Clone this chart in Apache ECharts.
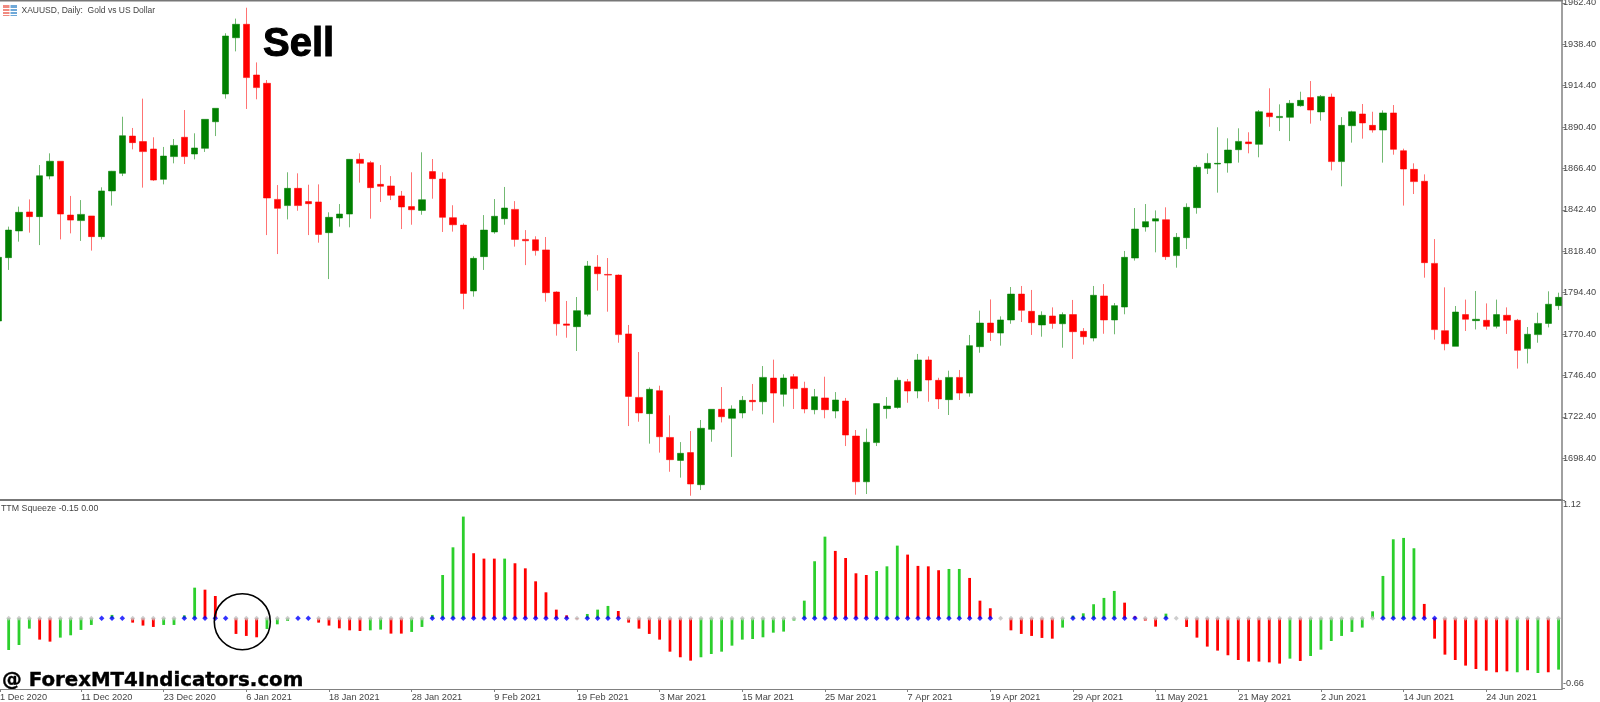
<!DOCTYPE html>
<html>
<head>
<meta charset="utf-8">
<style>html,body{margin:0;padding:0;background:#fff}#c{width:1600px;height:702px}</style>
<script src="https://cdn.jsdelivr.net/npm/echarts@6/dist/echarts.min.js"></script>
</head>
<body>
<div id="c"></div>
<script>
const dateLabels = ['1 Dec 2020','11 Dec 2020','23 Dec 2020','6 Jan 2021','18 Jan 2021','28 Jan 2021','9 Feb 2021','19 Feb 2021','3 Mar 2021','15 Mar 2021','25 Mar 2021','7 Apr 2021','19 Apr 2021','29 Apr 2021','11 May 2021','21 May 2021','2 Jun 2021','14 Jun 2021','24 Jun 2021'];
const priceTicks = [1698.4,1722.4,1746.4,1770.4,1794.4,1818.4,1842.4,1866.4,1890.4,1914.4,1938.4,1962.4];
const momentumTicks = [-0.66,1.12];

const opens = [1778.0,1814.7,1830.2,1841.2,1838.5,1862.0,1870.6,1839.4,1836.2,1838.9,
1826.9,1853.4,1863.6,1885.2,1882.0,1877.7,1860.1,1873.3,1884.5,1874.8,
1878.1,1893.5,1909.6,1942.2,1950.0,1920.6,1915.8,1848.5,1844.9,1854.9,
1847.2,1847.0,1829.2,1837.7,1840.0,1871.7,1869.8,1857.2,1856.3,1850.5,
1844.3,1842.1,1864.6,1860.3,1837.9,1833.6,1795.4,1815.3,1829.6,1837.3,
1842.7,1825.3,1825.1,1819.2,1794.8,1776.3,1774.7,1781.9,1809.3,1805.0,
1804.6,1770.5,1733.7,1724.3,1737.6,1710.5,1697.2,1701.7,1683.1,1715.2,
1726.8,1721.6,1724.7,1732.0,1731.2,1744.9,1735.5,1745.7,1739.0,1726.6,
1733.4,1725.8,1731.6,1711.3,1684.8,1707.5,1727.2,1727.9,1742.8,1737.4,
1755.4,1743.6,1732.4,1745.3,1736.2,1763.1,1776.8,1771.0,1778.6,1793.6,
1783.6,1775.7,1780.9,1776.4,1781.7,1772.0,1768.1,1792.5,1778.6,1786.1,
1814.5,1832.5,1835.9,1836.7,1815.9,1826.3,1843.7,1866.5,1869.0,1869.6,
1877.3,1881.8,1880.4,1898.6,1895.9,1896.1,1902.8,1907.5,1899.2,1907.8,
1870.4,1891.2,1898.0,1891.4,1888.7,1898.6,1876.7,1865.9,1859.0,1811.4,
1772.4,1763.3,1781.7,1778.2,1778.4,1774.9,1781.3,1778.4,1762.0,1770.1,
1776.6,1786.9];
const closes = [1814.9,1830.7,1841.0,1838.5,1862.2,1870.6,1840.0,1836.5,1839.8,1826.9,
1853.4,1864.8,1885.4,1881.4,1876.2,1859.7,1873.6,1879.8,1873.3,1878.3,
1894.9,1901.3,1943.2,1950.0,1919.1,1913.3,1849.3,1843.3,1854.9,1844.9,
1846.0,1828.2,1838.1,1840.0,1871.7,1869.4,1855.3,1856.1,1850.9,1844.1,
1842.5,1848.3,1860.5,1838.1,1833.8,1794.0,1814.3,1830.7,1838.7,1843.5,
1825.3,1824.5,1818.8,1794.4,1776.4,1775.5,1784.0,1809.9,1805.4,1804.6,
1770.1,1734.3,1724.7,1738.4,1710.9,1697.6,1701.3,1683.5,1715.8,1726.8,
1722.5,1727.0,1732.0,1731.2,1745.3,1736.2,1744.9,1738.8,1727.0,1734.1,
1726.6,1732.2,1711.9,1684.8,1707.7,1730.1,1728.7,1743.6,1737.4,1755.4,
1743.8,1732.8,1745.3,1736.2,1763.7,1776.8,1771.4,1778.6,1793.6,1784.2,
1777.0,1781.3,1776.6,1781.7,1771.8,1768.9,1792.9,1778.6,1786.9,1814.9,
1831.3,1835.6,1837.3,1815.3,1826.5,1843.9,1867.1,1869.4,1869.4,1877.1,
1882.1,1880.8,1899.3,1896.4,1896.6,1904.2,1905.9,1900.3,1908.2,1870.4,
1891.4,1899.3,1892.8,1888.7,1898.6,1877.5,1866.1,1858.8,1811.8,1773.0,
1764.8,1783.2,1779.0,1779.0,1774.9,1781.7,1778.4,1761.0,1770.3,1776.6,
1787.7,1791.7];
const highs = [1814.9,1832.7,1844.3,1848.5,1868.4,1875.2,1870.6,1850.5,1848.1,1838.9,
1855.5,1865.0,1896.4,1889.9,1906.9,1884.5,1878.9,1883.5,1900.3,1886.8,
1894.9,1901.3,1944.8,1953.3,1959.6,1927.9,1917.7,1856.8,1864.2,1863.6,
1857.0,1857.2,1841.0,1845.8,1871.7,1875.2,1870.8,1868.4,1862.0,1853.4,
1864.2,1875.8,1871.9,1864.2,1845.1,1834.6,1815.5,1839.4,1848.7,1855.7,
1847.5,1830.7,1827.1,1826.7,1795.2,1789.6,1791.9,1812.8,1816.2,1814.5,
1805.0,1775.7,1760.0,1739.5,1740.5,1723.3,1707.8,1714.2,1720.6,1726.8,
1739.7,1729.1,1734.5,1741.5,1751.9,1755.6,1747.1,1747.3,1742.8,1738.6,
1745.7,1736.8,1733.4,1714.8,1715.6,1730.3,1733.9,1745.3,1744.4,1758.9,
1757.5,1745.1,1749.2,1749.6,1769.9,1784.0,1790.5,1780.7,1797.7,1798.3,
1796.0,1783.6,1785.9,1783.0,1790.2,1773.9,1798.3,1799.4,1788.4,1818.6,
1843.5,1845.8,1842.1,1843.9,1829.0,1846.2,1868.4,1875.2,1890.3,1883.9,
1889.7,1887.4,1900.3,1912.9,1903.6,1906.1,1910.9,1917.1,1909.0,1909.8,
1896.2,1899.9,1903.8,1899.3,1900.1,1903.2,1877.9,1869.4,1863.0,1825.5,
1797.5,1786.7,1790.4,1795.4,1788.2,1790.4,1785.9,1779.2,1774.5,1782.8,
1795.2,1794.4];
const lows = [1778.0,1807.6,1824.0,1829.2,1822.0,1860.1,1825.3,1828.8,1824.4,1818.8,
1825.3,1844.9,1862.0,1877.5,1855.3,1859.2,1857.2,1869.4,1869.0,1871.7,
1876.0,1885.2,1906.9,1934.3,1900.9,1906.5,1827.8,1816.8,1836.9,1841.9,
1827.8,1823.4,1802.3,1832.7,1832.3,1858.2,1837.3,1847.0,1848.1,1831.3,
1833.8,1839.6,1848.9,1829.6,1829.8,1784.8,1792.1,1807.6,1828.6,1833.8,
1821.1,1810.4,1815.9,1789.2,1769.5,1768.3,1760.6,1780.7,1795.6,1783.4,
1765.4,1717.1,1719.6,1706.9,1701.7,1690.6,1687.2,1676.7,1680.0,1708.0,
1719.2,1699.2,1721.6,1726.0,1723.9,1719.0,1728.4,1727.0,1724.5,1723.9,
1721.6,1721.6,1705.5,1677.3,1677.7,1705.5,1721.4,1727.2,1730.6,1733.2,
1731.2,1727.0,1723.5,1732.2,1734.1,1759.6,1766.4,1763.7,1776.4,1777.4,
1769.9,1768.9,1773.5,1762.5,1756.0,1764.3,1766.2,1770.6,1770.3,1781.9,
1813.0,1829.8,1817.8,1813.4,1808.9,1819.7,1840.2,1863.2,1852.4,1864.0,
1869.8,1875.2,1872.9,1890.6,1888.1,1882.3,1902.2,1892.4,1894.1,1865.3,
1856.1,1881.4,1883.7,1887.2,1869.8,1874.4,1844.9,1851.6,1803.1,1767.2,
1761.0,1763.3,1772.2,1773.1,1773.0,1773.7,1770.5,1750.4,1753.4,1765.4,
1774.3,1784.4];

const momentum = [-0.30,-0.300,-0.253,-0.098,-0.202,-0.221,-0.183,-0.161,-0.110,-0.063,
0,0.032,0,-0.041,-0.069,-0.082,-0.063,-0.063,0.028,0.290,
0.271,0.211,0,-0.148,-0.167,-0.180,-0.101,-0.057,-0.025,0,
0,-0.041,-0.069,-0.095,-0.114,-0.120,-0.114,-0.107,-0.145,-0.145,
-0.129,-0.082,0.032,0.410,0.672,0.963,0.616,0.565,0.565,0.565,
0.521,0.473,0.350,0.246,0.082,0.028,-0.009,0.041,0.082,0.117,
0.069,-0.041,-0.098,-0.148,-0.202,-0.316,-0.369,-0.401,-0.369,-0.338,
-0.316,-0.259,-0.202,-0.196,-0.180,-0.136,-0.126,-0.022,0.167,0.540,
0.773,0.638,0.571,0.426,0.410,0.448,0.492,0.688,0.603,0.496,
0.492,0.455,0.467,0.467,0.382,0.167,0.095,0,-0.114,-0.148,
-0.167,-0.186,-0.193,-0.088,0.025,0.047,0.133,0.193,0.259,0.148,
0.019,-0.022,-0.079,0.044,0,-0.082,-0.183,-0.268,-0.306,-0.350,
-0.395,-0.410,-0.410,-0.417,-0.429,-0.382,-0.404,-0.357,-0.297,-0.215,
-0.167,-0.129,-0.088,0.066,0.401,0.748,0.761,0.663,0.136,-0.193,
-0.344,-0.395,-0.448,-0.480,-0.496,-0.511,-0.502,-0.511,-0.492,-0.518,
-0.511,-0.486];
// G = rising-colour bar, R = falling-colour bar
const momentumColor = 'GGGGRRGGGGGGGRRRGGGGRRRRRRGGGGGRRRRRGGRRGGGGGGRRRGRRRRRRRGGGRRRRRRRRGGGGGGGGGGGGGRRRRGGGRRRRGGRRRRRRRRRGGGGGGRRRRGGRRRRRRRRRRGRGGGGGGGGGGGRRRRRRRRRGRGRGG';
// b = squeeze dot blue, s = squeeze dot silver
const squeezeState = 'ssssssssssbbbsssssbbbbbssssssbbsssssssssssbbbbbbbbbbbbbbsbbbbsssssssssssssssssbbbbbbbbbbbbbbbbbbbsssssssbbbbbbbssbssssssssssssssssssssbbbbbbsssssssssssss';

const barCount = opens.length;
const firstVisibleBar = 0.1616, lastVisibleBar = 151.33;
const dateTicks = dateLabels.map((_, k) => k === 0 ? firstVisibleBar : k * 8);
const candleData = opens.map((o, i) => [i, o, closes[i], lows[i], highs[i]]);
const barColors = {G: '#2ccf2c', R: '#ff0000'};
const barData = momentum.map((v, i) => [i, v]);
const blueDots = [], silverDots = [];
for (let i = 0; i < barCount; i++) {
  (squeezeState[i] === 'b' ? blueDots : silverDots).push([i, 0]);
}

const axisColor = '#808080', textColor = '#444444', uiFont = '"Liberation Sans", Arial, sans-serif';
const chart = echarts.init(document.getElementById('c'), null, {renderer: 'canvas'});
chart.setOption({
  animation: false,
  backgroundColor: '#ffffff',
  grid: [
    {left: 0, top: 1, width: 1562, height: 499, outerBoundsMode: 'none'},
    {left: 0, top: 500, width: 1562, height: 189, outerBoundsMode: 'none'}
  ],
  xAxis: [
    {type: 'value', gridIndex: 0, min: firstVisibleBar, max: lastVisibleBar,
     axisLine: {show: true, onZero: false, lineStyle: {color: '#777777', width: 2}},
     axisTick: {show: false}, axisLabel: {show: false}, splitLine: {show: false}},
    {type: 'value', gridIndex: 1, min: firstVisibleBar, max: lastVisibleBar,
     axisLine: {show: true, onZero: false, lineStyle: {color: axisColor, width: 1.2}},
     axisTick: {show: true, length: 3, lineStyle: {color: axisColor}, customValues: dateTicks},
     axisLabel: {show: true, align: 'left', margin: 4, color: textColor, fontFamily: uiFont, fontSize: 9.2,
                 hideOverlap: false, customValues: dateTicks,
                 formatter: v => dateLabels[Math.round(v / 8)] || ''},
     splitLine: {show: false}}
  ],
  yAxis: [
    {type: 'value', gridIndex: 0, position: 'right', min: 1674.23, max: 1963.5,
     axisLine: {show: true, onZero: false, lineStyle: {color: axisColor, width: 1.5}},
     axisTick: {show: true, length: 3, lineStyle: {color: axisColor}, customValues: priceTicks},
     axisLabel: {show: true, margin: 1, color: textColor, fontFamily: uiFont, fontSize: 9.2,
                 customValues: priceTicks, formatter: v => v.toFixed(2)},
     splitLine: {show: false}},
    {type: 'value', gridIndex: 1, position: 'right', min: -0.6695, max: 1.12,
     axisLine: {show: true, onZero: false, lineStyle: {color: axisColor, width: 1.5}},
     axisTick: {show: true, length: 3, lineStyle: {color: axisColor}, customValues: momentumTicks},
     axisLabel: {show: true, margin: 1, color: textColor, fontFamily: uiFont, fontSize: 9.2,
                 customValues: momentumTicks, verticalAlignMaxLabel: 'top', verticalAlignMinLabel: 'bottom',
                 formatter: v => v.toFixed(2)},
     splitLine: {show: false}}
  ],
  series: [
    {type: 'candlestick', xAxisIndex: 0, yAxisIndex: 0, data: candleData, barWidth: 7, layout: 'horizontal',
     itemStyle: {color: '#008000', color0: '#ff0000', borderColor: 'rgba(0,128,0,0.55)', borderColor0: 'rgba(255,0,0,0.55)',
                 borderColorDoji: 'rgba(255,0,0,0.55)', borderWidth: 1}},
    {type: 'custom', xAxisIndex: 1, yAxisIndex: 1, data: barData, clip: true, z: 2,
     encode: {x: 0, y: 1},
     renderItem: (params, api) => {
       const base = api.coord([api.value(0), 0]);
       const tip = api.coord([api.value(0), api.value(1)]);
       const w = 2.8;
       return {type: 'rect',
               shape: {x: base[0] - w / 2, y: Math.min(base[1], tip[1]), width: w, height: Math.abs(tip[1] - base[1])},
               style: {fill: barColors[momentumColor[params.dataIndex]]}};
     }},
    {type: 'scatter', xAxisIndex: 1, yAxisIndex: 1, data: silverDots, symbol: 'diamond', symbolSize: 5,
     itemStyle: {color: '#c0c0c0'}, z: 3},
    {type: 'scatter', xAxisIndex: 1, yAxisIndex: 1, data: blueDots, symbol: 'diamond', symbolSize: 5.5,
     itemStyle: {color: '#0000ff'}, z: 4}
  ],
  graphic: {elements: [
    {type: 'rect', shape: {x: 0, y: 0, width: 1563, height: 1.5}, style: {fill: '#777777'}, silent: true},
    {type: 'rect', shape: {x: 3, y: 5, width: 7, height: 11}, style: {fill: '#f08a80'}, silent: true},
    {type: 'rect', shape: {x: 10, y: 5, width: 7, height: 11}, style: {fill: '#6ea8d8'}, silent: true},
    {type: 'rect', shape: {x: 3, y: 8, width: 14, height: 1}, style: {fill: '#ffffff'}, silent: true},
    {type: 'rect', shape: {x: 3, y: 11, width: 14, height: 1}, style: {fill: '#ffffff'}, silent: true},
    {type: 'rect', shape: {x: 3, y: 14, width: 14, height: 1}, style: {fill: '#ffffff'}, silent: true},
    {type: 'rect', shape: {x: 9.5, y: 5, width: 1, height: 11}, style: {fill: '#ffffff'}, silent: true},
    {type: 'text', x: 21.5, y: 11, silent: true, style: {text: 'XAUUSD, Daily:  Gold vs US Dollar', fill: textColor, font: '8.5px ' + uiFont, textVerticalAlign: 'middle'}},
    {type: 'text', x: 1, y: 509, silent: true, style: {text: 'TTM Squeeze -0.15 0.00', fill: textColor, font: '8.8px ' + uiFont, textVerticalAlign: 'middle'}},
    {type: 'text', x: 263, y: 44.5, silent: true, style: {text: 'Sell', fill: '#000000', stroke: '#000000', lineWidth: 1, font: 'bold 40px ' + uiFont, textVerticalAlign: 'middle'}},
    {type: 'text', x: 2, y: 681, silent: true, style: {text: '@ ForexMT4Indicators.com', fill: '#000000', stroke: '#000000', lineWidth: 0.4, font: 'bold 19.8px "DejaVu Sans", sans-serif', textVerticalAlign: 'middle'}},
    {type: 'circle', shape: {cx: 242.3, cy: 621.7, r: 28}, style: {fill: 'rgba(0,0,0,0)', stroke: '#000000', lineWidth: 1.6}, silent: true, z: 10}
  ]}
});
</script>
</body>
</html>
